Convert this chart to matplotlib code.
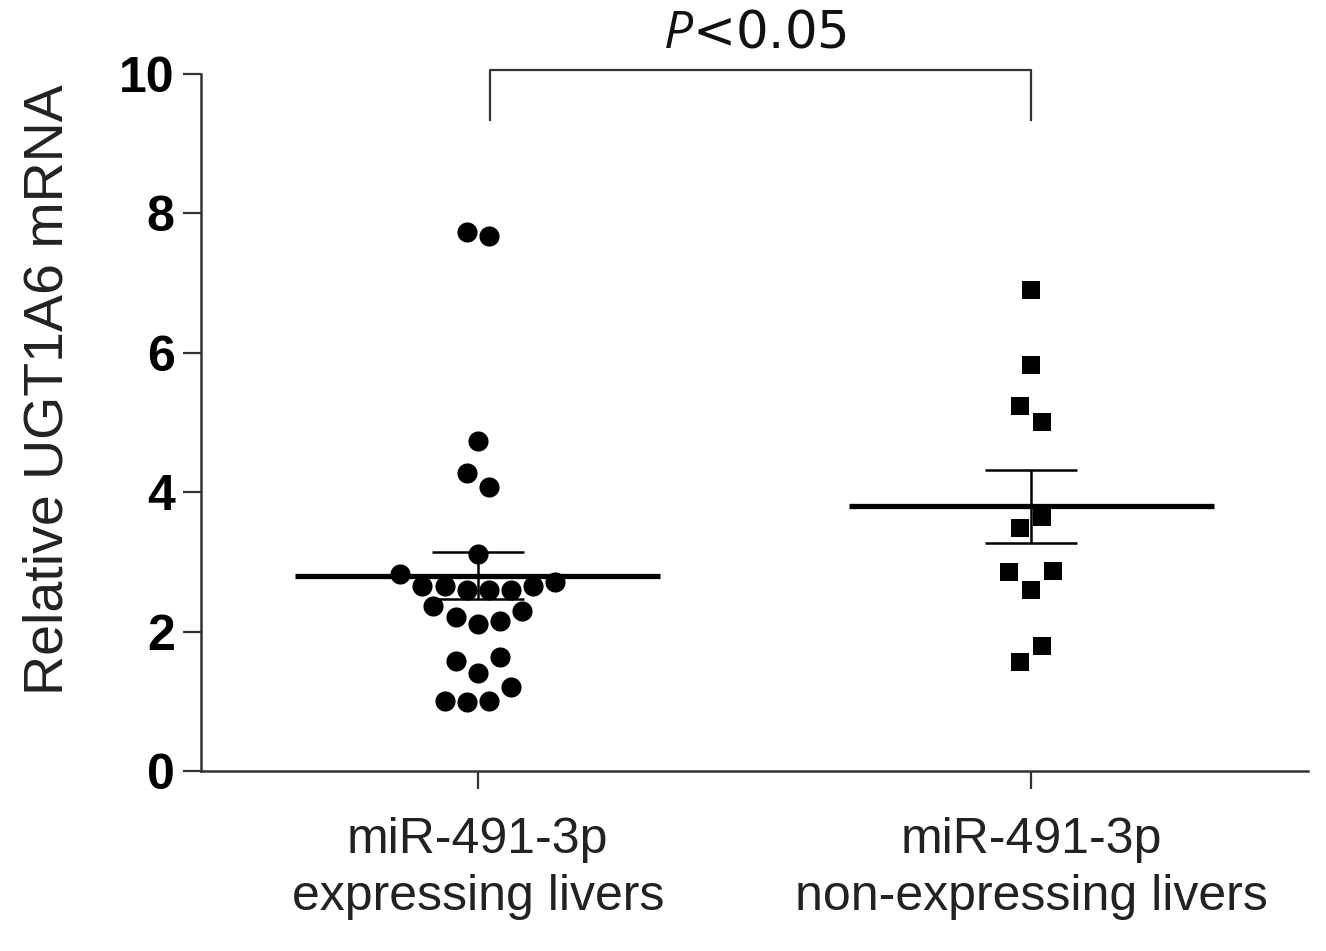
import numpy as np
import matplotlib
matplotlib.use("Agg")
import matplotlib.pyplot as plt

plt.rcParams['mathtext.fontset'] = 'custom'
plt.rcParams['mathtext.it'] = 'Open Sans:italic'
plt.rcParams['mathtext.rm'] = 'Open Sans'

# gruppi
groups = ["miR-491-3p\nexpressing livers", "miR-491-3p\nnon-expressing livers"]

# valori (UGT1A6 relativo)
expr_vals = [7.74, 7.68, 4.73, 4.27, 4.07, 3.11,
             2.82, 2.66, 2.66, 2.60, 2.60, 2.60, 2.66, 2.71,
             2.37, 2.21, 2.11, 2.15, 2.30,
             1.58, 1.64, 1.40, 1.21, 1.01, 0.99, 1.01]
# spostamento orizzontale dei punti (come nello sciame originale)
expr_dx = [-0.02, 0.02, 0.0, -0.02, 0.02, 0.0,
           -0.14, -0.10, -0.06, -0.02, 0.02, 0.06, 0.10, 0.14,
           -0.08, -0.04, 0.0, 0.04, 0.08,
           -0.04, 0.04, 0.0, 0.06, -0.06, -0.02, 0.02]

nonexpr_vals = [6.90, 5.82, 5.23, 5.01, 3.65, 3.48, 2.85, 2.87, 2.59, 1.80, 1.56]
nonexpr_dx = [0.0, 0.0, -0.02, 0.02, 0.02, -0.02, -0.04, 0.04, 0.0, 0.02, -0.02]

p_text = "$\\it{P}$<0.05"

fig = plt.figure(figsize=(13.26, 9.51), dpi=100)
ax = fig.add_axes([0.1516, 0.1893, 0.8348, 0.7329])

data = [(expr_vals, expr_dx, 'o', 210), (nonexpr_vals, nonexpr_dx, 's', 150)]
for i, (vals, dx, mk, s) in enumerate(data):
    vals = np.array(vals)
    x = i + np.array(dx)
    ax.scatter(x, vals, marker=mk, s=s, color='black', zorder=3, linewidths=0)
    m = vals.mean()
    sem = vals.std(ddof=1) / np.sqrt(len(vals))
    # linea della media
    ax.plot([i - 0.33, i + 0.33], [m, m], color='black', lw=3.8, zorder=4,
            solid_capstyle='butt')
    # barra di errore (SEM)
    ax.errorbar(i, m, yerr=sem, fmt='none', ecolor='black', elinewidth=1.8,
                capsize=33, capthick=1.8, zorder=4)

ax.set_xlim(-0.5, 1.5)
ax.set_ylim(0, 10)
ax.set_yticks([0, 2, 4, 6, 8, 10])
ax.set_xticks([0, 1])
ax.set_xticklabels(groups, fontsize=36, family='Liberation Sans', color='#222222',
                   linespacing=1.3)
for lab in ax.get_yticklabels():
    lab.set_fontsize(36)
    lab.set_fontweight('bold')
    lab.set_family('Liberation Sans')

ax.spines['top'].set_visible(False)
ax.spines['right'].set_visible(False)
ax.spines['left'].set_linewidth(1.8)
ax.spines['bottom'].set_linewidth(1.8)
ax.spines['left'].set_color('#333333')
ax.spines['bottom'].set_color('#333333')
ax.tick_params(axis='y', length=13, width=1.6, pad=6, colors='#333333', labelcolor='black')
ax.tick_params(axis='x', length=13, width=1.6, pad=20, colors='#333333', labelcolor='#222222')

ax.set_ylabel("Relative UGT1A6 mRNA", fontsize=40, family='Liberation Sans',
              color='#222222')
ax.yaxis.set_label_coords(-0.114, 0.547)

# parentesi della significatività
ax.plot([0.022, 0.022, 1.0, 1.0], [9.34, 10.06, 10.06, 9.34], color='#333333',
        lw=1.6, clip_on=False)
ax.text(0.5, 10.22, p_text, ha='center', va='bottom', fontsize=37,
        color='#111111')

fig.savefig("out.png", dpi=100)
